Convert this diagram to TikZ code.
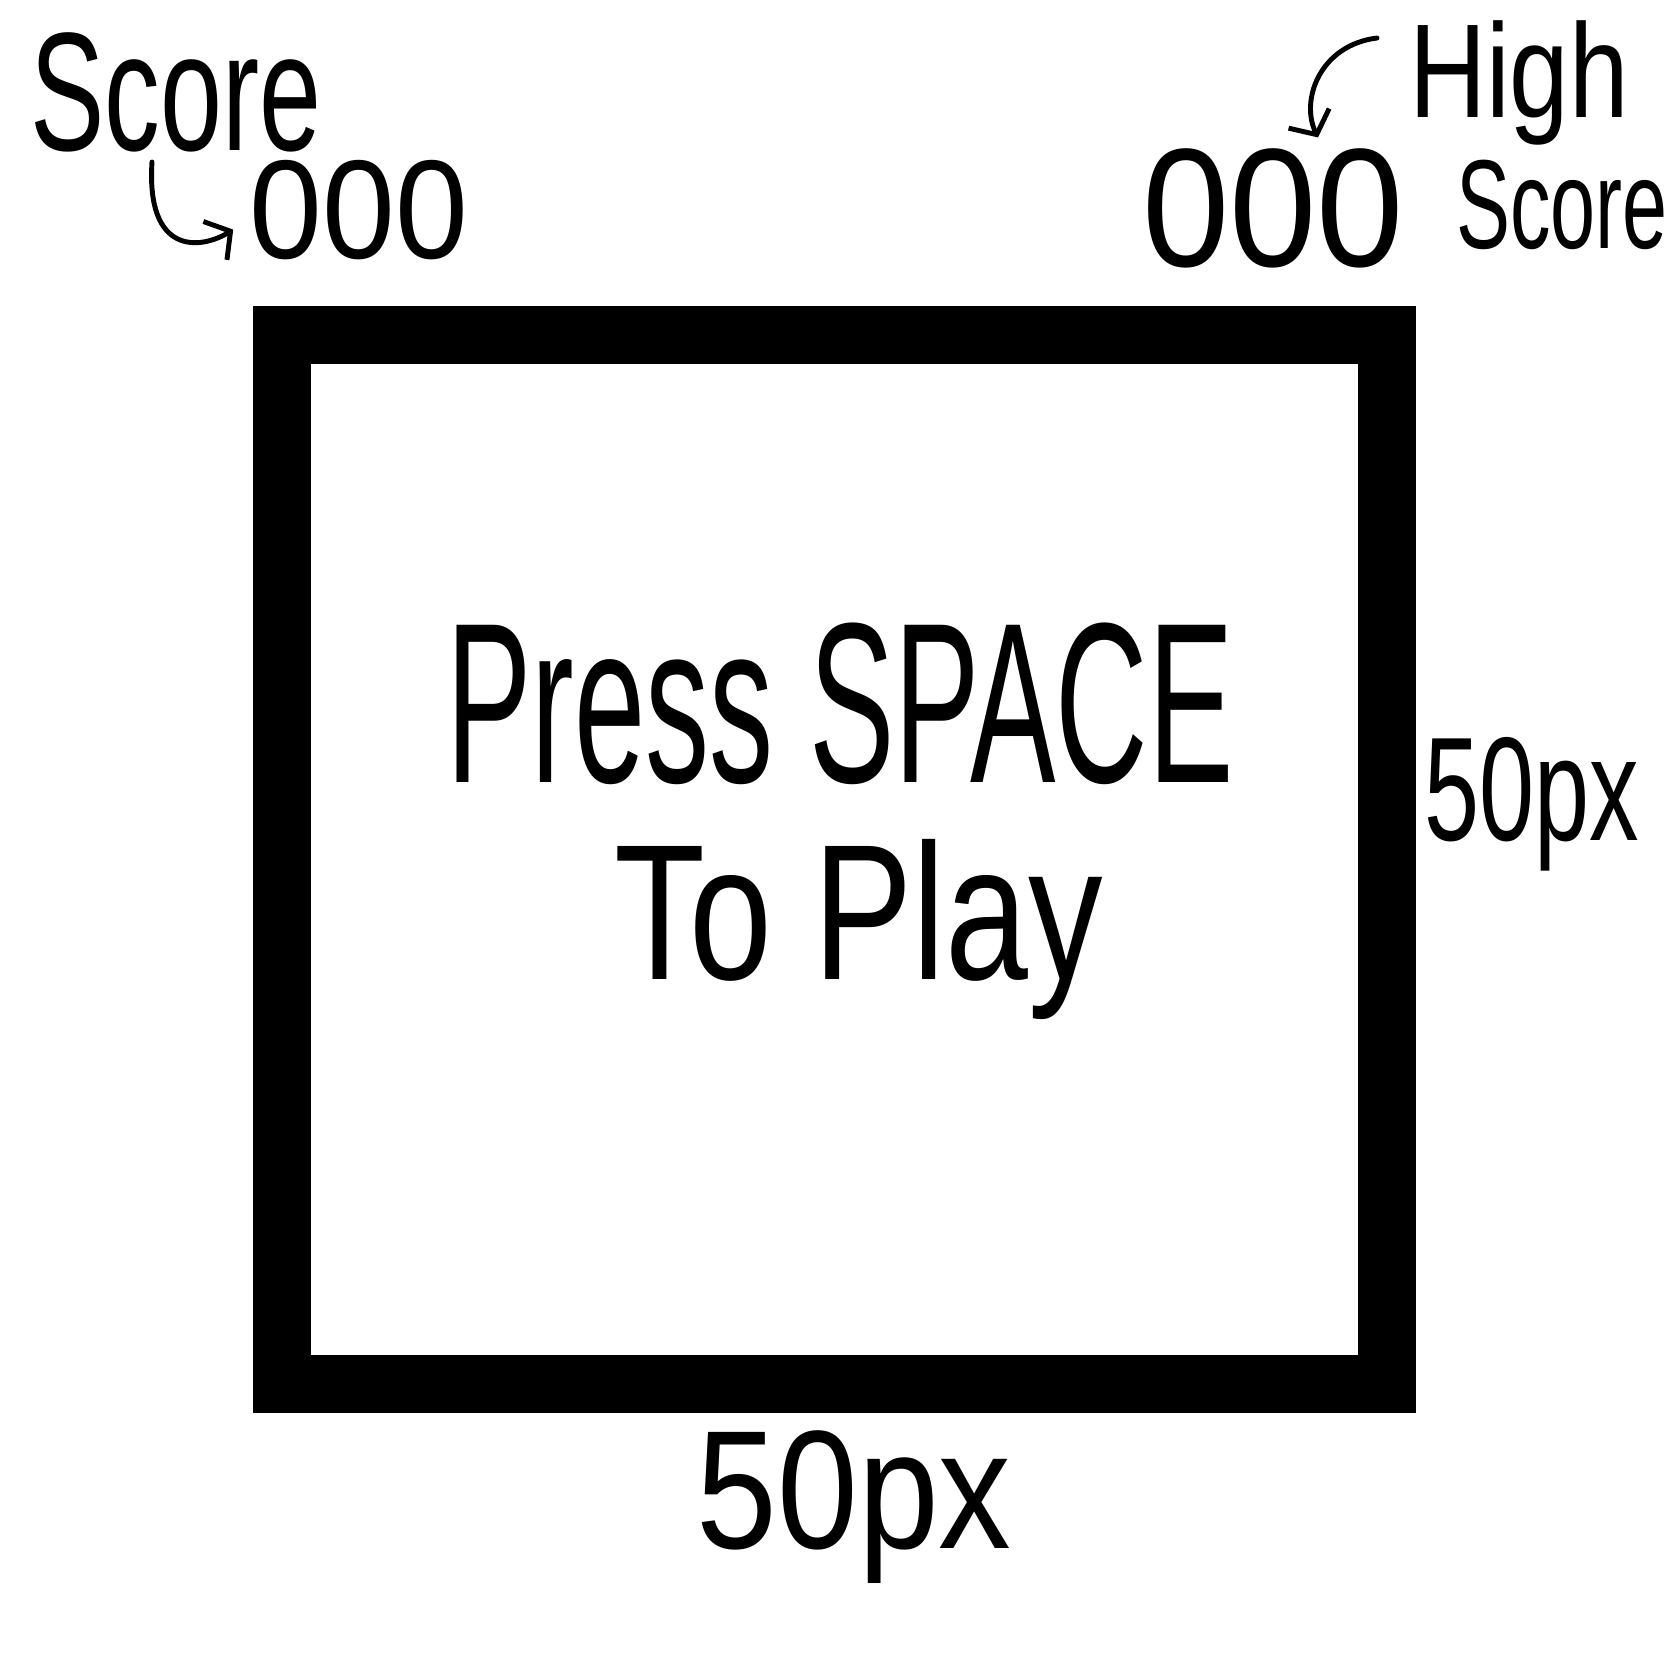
\documentclass[tikz,border=0pt]{standalone}
\usepackage{fontspec}
\setmainfont{Liberation Sans}
\usepackage{tikz}
\usetikzlibrary{arrows.meta,positioning,calc}
\tikzset{
  hand/.style={inner sep=0pt, text=black, anchor=base},
  hook/.style={line width=1.4pt, line cap=round, -{Straight Barb[length=0.18cm, width=0.45cm]}}
}

\begin{document}
\begin{tikzpicture}[x=0.01cm, y=-0.01cm]
  \useasboundingbox (0,0) rectangle (1668,1668);
  % play field border
  \draw[black, line width=5.8mm] (282,335) rectangle (1387,1384);
  % score, top left
  \node[hand, xscale=0.66, font=\fontsize{48}{52}\selectfont] (scoreL) at (176,150) {Score};
  \node[hand, xscale=0.93, font=\fontsize{40}{44}\selectfont] (zeroL) at (359,258) {000};
  % high score, top right
  \node[hand, xscale=0.8, font=\fontsize{38}{42}\selectfont] (highR) at (1519,117) {High};
  \node[hand, xscale=0.93, font=\fontsize{48}{52}\selectfont] (zeroR) at (1273,266) {000};
  \node[hand, xscale=0.64, font=\fontsize{36}{40}\selectfont] (scoreR) at (1562,248) {Score};
  % hook arrows to the counters
  \coordinate (hookL) at (152,162);
  \coordinate (hookR) at (1377,38);
  \draw[hook] (hookL) .. controls (146,255) and (200,250) .. ([xshift=-0.16cm, yshift=-0.2cm]zeroL.west);
  \draw[hook] (hookR) .. controls (1320,45) and (1300,100) .. ([xshift=0.45cm, yshift=0.1cm]zeroR.north);
  % start message
  \node[hand, xscale=0.56, font=\fontsize{65}{70}\selectfont] (press) at (840,782) {Press SPACE};
  \node[hand, xscale=0.77, font=\fontsize{55}{60}\selectfont] (play) at (859,979) {To Play};
  % sizes
  \node[hand, xscale=0.67, font=\fontsize{42}{46}\selectfont] (sizeR) at (1532,840) {50px};
  \node[hand, xscale=0.86, font=\fontsize{48}{52}\selectfont] (sizeB) at (854,1548) {50px};
\end{tikzpicture}
\end{document}
